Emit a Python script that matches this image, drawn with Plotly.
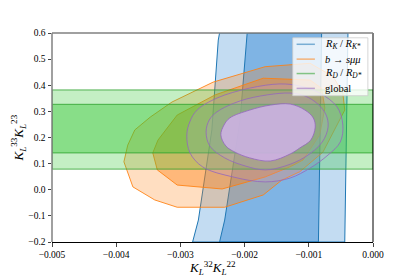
import plotly.graph_objects as go

# ---------------- data ----------------
# R_K / R_K* bands: left edge (bottom -> top) and right edge (bottom -> top)
rk2_left_x = [-0.00281, -0.00272, -0.00251, -0.00241, -0.00239]
rk2_left_y = [-0.2, -0.116, 0.229, 0.573, 0.6]
rk2_right_x = [-0.00044, -0.00039]
rk2_right_y = [-0.2, 0.6]
rk1_left_x = [-0.00239, -0.00231, -0.00207, -0.00197, -0.00196]
rk1_left_y = [-0.2, -0.116, 0.267, 0.573, 0.6]
rk1_right_x = [-0.00085, -0.00080]
rk1_right_y = [-0.2, 0.6]

# b -> s mu mu contours
bs2_x = [-0.00388, -0.00382, -0.00371, -0.00347, -0.00313, -0.00249, -0.00168, -0.00098, -0.00062, -0.00047,
         -0.00044, -0.00056, -0.00078, -0.00114, -0.00142, -0.00171, -0.00231, -0.00305, -0.00340, -0.00374]
bs2_y = [0.107, 0.171, 0.229, 0.278, 0.336, 0.412, 0.471, 0.484, 0.433, 0.370,
         0.305, 0.248, 0.144, 0.069, 0.037, -0.020, -0.067, -0.067, -0.039, 0.011]
bs1_x = [-0.00343, -0.00336, -0.00305, -0.00235, -0.00168, -0.00129, -0.00109, -0.00083, -0.00075, -0.00080,
         -0.00098, -0.00171, -0.00246, -0.00305, -0.00335]
bs1_y = [0.141, 0.076, 0.018, 0.003, 0.049, 0.088, 0.114, 0.210, 0.313, 0.388,
         0.420, 0.427, 0.363, 0.286, 0.190]

# R_D / R_D* bands (horizontal)
rd2_y = [0.079, 0.382]
rd1_y = [0.141, 0.327]
x_range = [-0.005, 0.0]
y_range = [-0.2, 0.6]

# global fit contours
gl3_x = [-0.00290, -0.00285, -0.00274, -0.00243, -0.00192, -0.00145, -0.00114, -0.00083, -0.00056, -0.00047,
         -0.00051, -0.00070, -0.00098, -0.00129, -0.00168, -0.00218, -0.00265, -0.00285]
gl3_y = [0.210, 0.262, 0.305, 0.351, 0.389, 0.405, 0.397, 0.370, 0.317, 0.248,
         0.183, 0.133, 0.083, 0.045, 0.030, 0.049, 0.087, 0.141]
gl2_x = [-0.00260, -0.00255, -0.00243, -0.00207, -0.00165, -0.00129, -0.00106, -0.00086, -0.00073, -0.00070,
         -0.00079, -0.00106, -0.00137, -0.00168, -0.00199, -0.00231, -0.00254]
gl2_y = [0.221, 0.267, 0.298, 0.340, 0.363, 0.370, 0.359, 0.328, 0.286, 0.240,
         0.183, 0.125, 0.091, 0.076, 0.091, 0.122, 0.167]
gl1_x = [-0.00237, -0.00232, -0.00223, -0.00192, -0.00160, -0.00129, -0.00106, -0.00093, -0.00090, -0.00097,
         -0.00114, -0.00129, -0.00160, -0.00192, -0.00215, -0.00229]
gl1_y = [0.210, 0.248, 0.275, 0.305, 0.324, 0.328, 0.305, 0.275, 0.240, 0.190,
         0.160, 0.137, 0.110, 0.122, 0.144, 0.167]

x_ticks = [-0.005, -0.004, -0.003, -0.002, -0.001, 0.0]
x_ticktext = ["\u22120.005", "\u22120.004", "\u22120.003", "\u22120.002", "\u22120.001", "0.000"]
y_ticks = [-0.2, -0.1, 0.0, 0.1, 0.2, 0.3, 0.4, 0.5, 0.6]
y_ticktext = ["\u22120.2", "\u22120.1", "0.0", "0.1", "0.2", "0.3", "0.4", "0.5", "0.6"]

legend_names = ["<i>R<sub>K</sub></i> / <i>R<sub>K*</sub></i>",
                "<i>b</i> \u2192 <i>s\u03bc\u03bc</i>",
                "<i>R<sub>D</sub></i> / <i>R<sub>D*</sub></i>",
                "global"]
x_title = "<i>K</i><sub><i>L</i></sub><sup>32</sup><i>K</i><sub><i>L</i></sub><sup>22</sup>"
y_title = "<i>K</i><sub><i>L</i></sub><sup>33</sup><i>K</i><sub><i>L</i></sub><sup>23</sup>"

BLUE_FILL = (40, 130, 210)
BLUE_LINE = (31, 119, 180)
ORANGE = (255, 127, 14)
GREEN_FILL = (50, 200, 50)
GREEN_LINE = (44, 160, 44)
PURPLE_LINE = (148, 103, 189)


def rgba(c, a):
    return f"rgba({c[0]},{c[1]},{c[2]},{a})"


fig = go.Figure()


def poly(x, y, fill, line, shape="linear", width=1):
    fig.add_trace(go.Scatter(x=list(x) + [x[0]], y=list(y) + [y[0]], mode="lines", fill="toself",
                             fillcolor=fill, line=dict(color=line, width=width, shape=shape),
                             showlegend=False, hoverinfo="skip"))


# blue bands
poly(rk2_left_x + rk2_right_x[::-1], rk2_left_y + rk2_right_y[::-1], rgba(BLUE_FILL, 0.28), rgba(BLUE_LINE, 1))
poly(rk1_left_x + rk1_right_x[::-1], rk1_left_y + rk1_right_y[::-1], rgba(BLUE_FILL, 0.44), rgba(BLUE_LINE, 1))
# orange
poly(bs2_x, bs2_y, rgba(ORANGE, 0.26), rgba(ORANGE, 0.85))
poly(bs1_x, bs1_y, rgba(ORANGE, 0.40), rgba(ORANGE, 0.85))
# green
poly([x_range[0], x_range[1], x_range[1], x_range[0]], [rd2_y[0], rd2_y[0], rd2_y[1], rd2_y[1]],
     rgba(GREEN_FILL, 0.29), rgba(GREEN_LINE, 0.8))
poly([x_range[0], x_range[1], x_range[1], x_range[0]], [rd1_y[0], rd1_y[0], rd1_y[1], rd1_y[1]],
     rgba(GREEN_FILL, 0.41), rgba(GREEN_LINE, 0.8))
# purple
poly(gl3_x, gl3_y, "rgba(190,160,220,0.22)", rgba(PURPLE_LINE, 0.8), "spline")
poly(gl2_x, gl2_y, "rgba(190,160,220,0.22)", rgba(PURPLE_LINE, 0.8), "spline")
poly(gl1_x, gl1_y, "rgba(208,178,234,0.84)", rgba(PURPLE_LINE, 0.8), "spline")

FONT = "Liberation Serif"
# the page body has an 8px margin, so the figure is 8px smaller than the window
fig.update_layout(
    width=407, height=269,
    margin=dict(l=44, r=42, t=25, b=35),
    paper_bgcolor="white", plot_bgcolor="white",
    font=dict(family=FONT, size=10, color="black"),
    showlegend=False,
    xaxis=dict(range=x_range, tickvals=x_ticks, ticktext=x_ticktext, showgrid=False, zeroline=False,
               showline=True, linecolor="black", linewidth=1, ticks="outside", ticklen=3.5, tickwidth=0.8,
               tickfont=dict(size=9.5)),
    yaxis=dict(range=y_range, tickvals=y_ticks, ticktext=y_ticktext, showgrid=False, zeroline=False,
               showline=False, ticks="outside", ticklen=3.5, tickwidth=0.8, tickfont=dict(size=9.5)),
)
# axis titles
fig.add_annotation(text=x_title, xref="paper", yref="paper", x=0.5, y=-0.125, xanchor="center",
                   yanchor="middle", showarrow=False, font=dict(family=FONT, size=13))
fig.add_annotation(text=y_title, xref="paper", yref="paper", x=-0.106, y=0.5, xanchor="center",
                   yanchor="middle", textangle=-90, showarrow=False, font=dict(family=FONT, size=13))

# spines
fig.add_shape(type="line", xref="paper", yref="paper", x0=1, x1=1, y0=0, y1=1,
              line=dict(color="black", width=1), layer="above")
fig.add_shape(type="line", xref="paper", yref="paper", x0=0, x1=1, y0=1, y1=1,
              line=dict(color="#808080", width=1.5), layer="above")
fig.add_shape(type="line", xref="paper", yref="paper", x0=0, x1=0, y0=0, y1=1,
              line=dict(color="#808080", width=1.5), layer="above")

# legend box (upper right, inside axes)
fig.add_shape(type="rect", xref="paper", yref="paper", x0=0.750, x1=0.984, y0=0.700, y1=0.977,
              fillcolor="rgba(255,255,255,0.8)", line=dict(color="rgba(204,204,204,0.8)", width=1),
              layer="above")
leg_y = [0.946, 0.875, 0.806, 0.735]
for name, col, yy in zip(legend_names, [BLUE_LINE, ORANGE, GREEN_LINE, PURPLE_LINE], leg_y):
    fig.add_shape(type="line", xref="paper", yref="paper", x0=0.762, x1=0.819, y0=yy, y1=yy,
                  line=dict(color=rgba(col, 0.55), width=1.5), layer="above")
    fig.add_annotation(text=name, xref="paper", yref="paper", x=0.843, y=yy, xanchor="left",
                       yanchor="middle", showarrow=False, font=dict(family=FONT, size=10.5))

fig.write_html("out.html")
